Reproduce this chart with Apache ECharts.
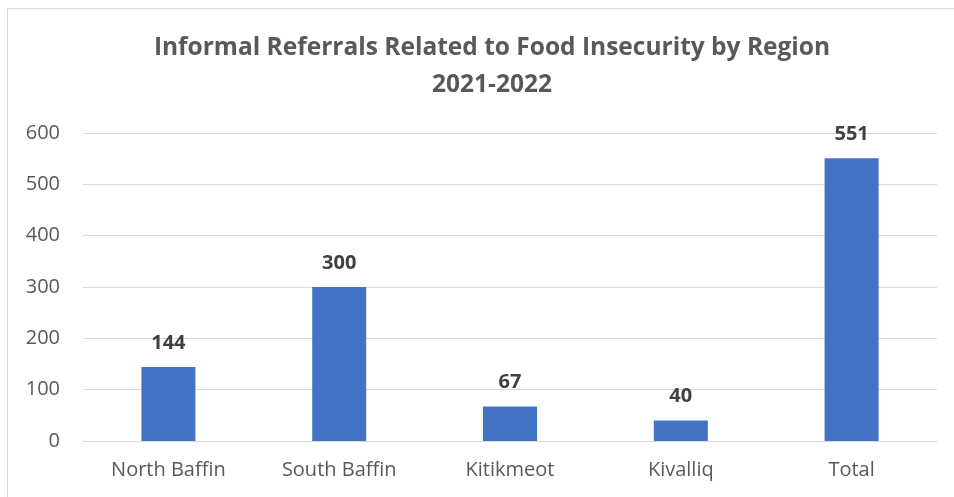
<!DOCTYPE html>
<html>
<head>
<meta charset="utf-8">
<script src="https://cdn.jsdelivr.net/npm/echarts@6/dist/echarts.min.js"></script>
<style>
html,body{margin:0;padding:0;background:#fff;}
#frame{position:absolute;left:7px;top:8px;width:960px;height:500px;border:1px solid #d9d9d9;box-sizing:border-box;}
#chart{position:absolute;left:0;top:0;width:954px;height:497px;}
</style>
</head>
<body>
<div id="frame"></div>
<div id="chart"></div>
<script>
const categories = ["North Baffin", "South Baffin", "Kitikmeot", "Kivalliq", "Total"];
const referrals = [144, 300, 67, 40, 551];
const yTicks = [0, 100, 200, 300, 400, 500, 600];
const titleLines = ["Informal Referrals Related to Food Insecurity by Region", "2021-2022"];

const chart = echarts.init(document.getElementById('chart'), null, {renderer: 'canvas'});
const fontFamily = "'Open Sans', 'Noto Sans', sans-serif";
chart.setOption({
  animation: false,
  backgroundColor: 'transparent',
  title: {
    text: titleLines.join('\n'),
    left: 487,
    textAlign: 'center',
    top: 25,
    textStyle: {
      fontFamily: fontFamily,
      fontSize: 24.5,
      fontWeight: 'bold',
      color: '#595959',
      lineHeight: 37
    }
  },
  grid: {left: 83, right: 17, top: 133, bottom: 56, containLabel: false},
  xAxis: {
    type: 'category',
    data: categories,
    axisLine: {lineStyle: {color: '#d9d9d9', width: 1}},
    axisTick: {show: false},
    axisLabel: {color: '#595959', fontSize: 20, fontFamily: fontFamily, margin: 19}
  },
  yAxis: {
    type: 'value',
    min: yTicks[0],
    max: yTicks[yTicks.length - 1],
    interval: 100,
    axisLine: {show: false},
    axisTick: {show: false},
    splitLine: {lineStyle: {color: '#d9d9d9', width: 1}},
    axisLabel: {color: '#595959', fontSize: 20, fontFamily: fontFamily, margin: 23}
  },
  series: [{
    type: 'bar',
    data: referrals,
    barWidth: 54,
    itemStyle: {color: '#4472c4'},
    label: {
      show: true,
      position: 'top',
      distance: 14,
      color: '#404040',
      fontSize: 20,
      fontWeight: 'bold',
      fontFamily: fontFamily
    }
  }]
});
</script>
</body>
</html>
